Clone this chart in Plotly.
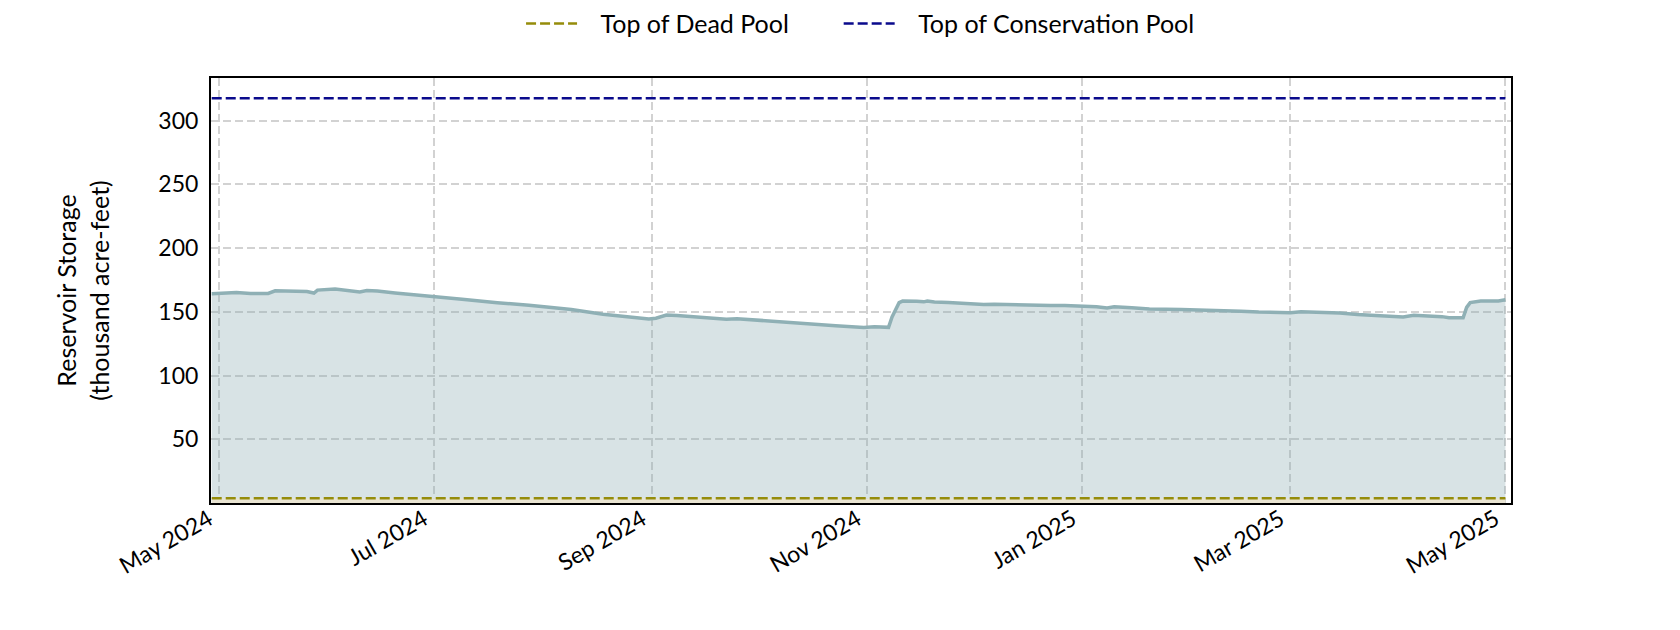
import plotly.graph_objects as go

dates = [
    "2024-04-29", "2024-05-01", "2024-05-06", "2024-05-10", "2024-05-15", "2024-05-17",
    "2024-05-21", "2024-05-26", "2024-05-28", "2024-05-29", "2024-06-03", "2024-06-07",
    "2024-06-10", "2024-06-12", "2024-06-15", "2024-06-20", "2024-06-25", "2024-07-01",
    "2024-07-05", "2024-07-09", "2024-07-19", "2024-07-24", "2024-07-28", "2024-08-02",
    "2024-08-09", "2024-08-18", "2024-08-26", "2024-08-31", "2024-09-02", "2024-09-05",
    "2024-09-08", "2024-09-15", "2024-09-22", "2024-09-25", "2024-10-04", "2024-10-14",
    "2024-10-18", "2024-10-23", "2024-10-31", "2024-11-03", "2024-11-07", "2024-11-08",
    "2024-11-10", "2024-11-11", "2024-11-15", "2024-11-17", "2024-11-18", "2024-11-20",
    "2024-11-24", "2024-11-29", "2024-12-04", "2024-12-07", "2024-12-13", "2024-12-23",
    "2024-12-27", "2025-01-01", "2025-01-05", "2025-01-08", "2025-01-10", "2025-01-15",
    "2025-01-20", "2025-01-29", "2025-02-05", "2025-02-10", "2025-02-15", "2025-02-20",
    "2025-03-01", "2025-03-04", "2025-03-10", "2025-03-15", "2025-03-20", "2025-03-25",
    "2025-03-29", "2025-04-02", "2025-04-05", "2025-04-08", "2025-04-13", "2025-04-15",
    "2025-04-19", "2025-04-20", "2025-04-21", "2025-04-24", "2025-04-29", "2025-05-01",
]
storage = [
    164.2, 164.3, 165.2, 164.4, 164.4, 166.5,
    166.3, 165.9, 164.7, 167.0, 167.8, 166.9,
    165.6, 166.7, 166.3, 164.8, 163.3, 161.8,
    160.5, 159.8, 157.1, 156.2, 155.2, 153.8,
    151.8, 148.0, 145.7, 144.4, 145.0, 147.4,
    147.1, 145.7, 144.2, 144.6, 142.7, 141.2,
    139.7, 139.0, 137.7, 138.3, 137.8, 146.0,
    157.2, 158.4, 158.2, 157.8, 158.5, 157.6,
    157.3, 156.3, 155.7, 156.0, 155.4, 154.9,
    154.9, 154.4, 153.9, 153.0, 153.9, 153.1,
    152.2, 151.8, 151.5, 150.8, 150.5, 149.8,
    149.2, 150.0, 149.5, 149.0, 147.8, 147.2,
    146.5, 145.9, 147.3, 147.1, 146.2, 145.4,
    145.3, 153.5, 157.2, 158.4, 158.5, 159.5,
]
dead_pool = 3.7
conservation_pool = 317.6
y_ticks = [50, 100, 150, 200, 250, 300]
x_ticks = ["2024-05-01", "2024-07-01", "2024-09-01", "2024-11-01", "2025-01-01", "2025-03-01", "2025-05-01"]
x_tick_labels = ["May 2024", "Jul 2024", "Sep 2024", "Nov 2024", "Jan 2025", "Mar 2025", "May 2025"]
series_names = ["Top of Dead Pool", "Top of Conservation Pool"]

FONT = "Lato"
NB = "\u00a0"
LEAD = NB * 3   # gap between legend symbol and label
TRAIL = NB * 7  # gap between legend entries

fig = go.Figure()
fig.add_trace(go.Scatter(
    x=dates, y=storage, mode="lines", fill="tozeroy",
    line=dict(color="#8fb0b5", width=3.5),
    fillcolor="rgba(143,176,181,0.35)",
    showlegend=False, hoverinfo="skip",
))
# band below the dead pool
fig.add_trace(go.Scatter(
    x=[dates[0], dates[-1]], y=[dead_pool, dead_pool], mode="none",
    fill="tozeroy", fillcolor="#e9e4d2", showlegend=False, hoverinfo="skip",
))
fig.add_trace(go.Scatter(
    x=[dates[0], dates[-1]], y=[dead_pool, dead_pool], mode="lines",
    line=dict(color="#958c0a", width=2.5, dash="10px,4px"),
    name=LEAD + series_names[0] + TRAIL,
))
fig.add_trace(go.Scatter(
    x=[dates[0], dates[-1]], y=[conservation_pool, conservation_pool], mode="lines",
    line=dict(color="#0a0a8c", width=2.5, dash="10px,4px"),
    name=LEAD + series_names[1],
))

axis_common = dict(
    showline=True, linecolor="black", linewidth=2, mirror=True,
    showgrid=True, gridcolor="#d2d2d2", gridwidth=1.5, griddash="8px,4px",
    zeroline=False, tickfont=dict(family=FONT, size=23, color="black"),
)
fig.update_xaxes(
    **axis_common, type="date",
    range=["2024-04-28 19:00", "2025-05-02 14:00"],
    tickvals=x_ticks, ticktext=x_tick_labels, tickangle=-30,
    ticks="", ticklabelstandoff=-8, ticklabelshift=-10,
)
fig.update_yaxes(
    **axis_common,
    range=[0, 333.4], tickvals=y_ticks, ticks="", ticklabelstandoff=6,
    title=dict(text="Reservoir Storage<br>(thousand acre-feet)",
               font=dict(family=FONT, size=25, color="black"), standoff=42),
)
fig.update_layout(
    width=1680, height=630,
    margin=dict(l=203, r=177, t=70, b=135, autoexpand=False),
    plot_bgcolor="white", paper_bgcolor="white",
    font=dict(family=FONT, color="black"),
    legend=dict(orientation="h", x=0.2385, xanchor="left", xref="paper",
                y=0.975, yanchor="middle", yref="container",
                font=dict(family=FONT, size=25, color="black"),
                itemwidth=51, entrywidth=0),
    showlegend=True,
)
fig.write_html("out.html")
